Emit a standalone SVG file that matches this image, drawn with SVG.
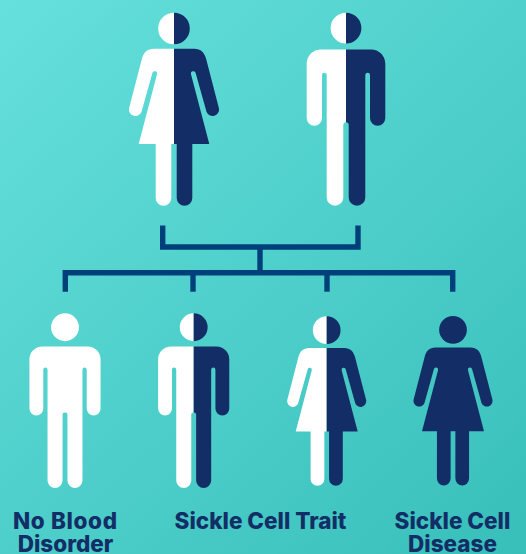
<svg xmlns="http://www.w3.org/2000/svg" width="526" height="554" viewBox="0 0 526 554">
<style>
.w{fill:#fff}.n{fill:#132e66}
.c{fill:none;stroke:#00407a;stroke-width:5.4;stroke-linejoin:miter;stroke-linecap:butt}
text{font-family:"Inter","Liberation Sans",sans-serif;font-weight:800;font-size:22.5px;fill:#132e66;text-anchor:middle}
</style>
<defs>
<linearGradient id="bg" gradientUnits="userSpaceOnUse" x1="0" y1="0" x2="526" y2="554">
<stop offset="0" stop-color="#66e0dc"/><stop offset="1" stop-color="#38bfba"/>
</linearGradient>
<g id="f-right"><path d="M0 0A15.8 15.8 0 0 1 0 31.6Z M0 36H20C27 36 30.5 40 32.3 46.7L45 95.7A6.5 6.5 0 0 1 32.5 99L21.7 60.5A2.4 2.4 0 0 0 17 61.5L35.3 131.3H18.3V185.2A7.8 7.8 0 0 1 2.7 185.2V131.3H0Z"/></g>
<g id="m-right"><path d="M0 0A15.4 15.4 0 0 1 0 30.8Z M0 36.7H25C33 36.7 39.3 43 39.3 50.7V105.3A7.65 7.65 0 0 1 24 105.3V62.3A2.35 2.35 0 0 0 19.3 62.3V184.7A8.3 8.3 0 0 1 2.7 184.7V112A2.5 2.5 0 0 0 0 109.5Z"/></g>
</defs>
<rect id="background" width="526" height="554" fill="url(#bg)"/>
<g id="connectors" class="c">
<path d="M162.7 225.5V247H358V225.5"/>
<path d="M260 247V272.7"/>
<path d="M65.3 291.7V272.7H452.7V291.7"/>
<path d="M193 272.7V291.7"/>
<path d="M327 272.7V291.7"/>
</g>
<g id="parent-mother" transform="translate(174,12.7)">
<use href="#f-right" class="w" transform="scale(-1,1)"/><use href="#f-right" class="n"/>
</g>
<g id="parent-father" transform="translate(346,12.7)">
<use href="#m-right" class="w" transform="scale(-1,1)"/><use href="#m-right" class="n"/>
</g>
<g id="child-no-disorder">
<g transform="translate(65,313.3) scale(.905)">
<use href="#m-right" class="w" transform="scale(-1,1)"/><use href="#m-right" class="w"/>
</g>
<text x="65" y="529" textLength="104" lengthAdjust="spacing">No Blood</text>
<text x="65.5" y="552">Disorder</text>
</g>
<g id="child-trait-male" transform="translate(193.7,313.3) scale(.905)">
<use href="#m-right" class="w" transform="scale(-1,1)"/><use href="#m-right" class="n"/>
</g>
<g id="child-trait-female" transform="translate(326.7,316.3) scale(.878)">
<use href="#f-right" class="w" transform="scale(-1,1)"/><use href="#f-right" class="n"/>
</g>
<g id="label-trait"><text x="260.5" y="529">Sickle Cell Trait</text></g>
<g id="child-disease">
<g transform="translate(453,316) scale(.878)">
<use href="#f-right" class="n" transform="scale(-1,1)"/><use href="#f-right" class="n"/>
</g>
<text x="452.5" y="529">Sickle Cell</text>
<text x="452.5" y="552">Disease</text>
</g>
</svg>
